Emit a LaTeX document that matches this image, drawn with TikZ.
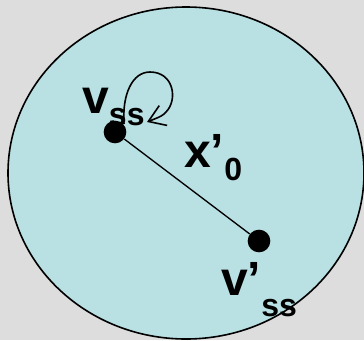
\documentclass[tikz,border=0pt]{standalone}
\usepackage{fontspec}
\setmainfont{Liberation Sans}
\usetikzlibrary{arrows.meta, positioning}
\definecolor{bggray}{HTML}{DDDDDD}
\definecolor{cellblue}{HTML}{B9E0E3}
\newcommand{\bigtxt}{\fontsize{36}{36}\selectfont\bfseries}
\newcommand{\subtxt}{\fontsize{24}{24}\selectfont\bfseries}

\begin{document}
\begin{tikzpicture}[x=0.75pt, y=-0.75pt,
  dot/.style={circle, fill=black, inner sep=0pt, minimum size=17pt},
  lbl/.style={anchor=base west, inner sep=0pt}]
\useasboundingbox[fill=bggray] (0,0) rectangle (364,340);
% the cell
\draw[line width=1.2pt, fill=cellblue] (186,173) ellipse [x radius=178, y radius=166];
% steady states
\node[dot] (vss) at (115,132) {};
\node[dot] (vpss) at (259,241) {};
\draw[line width=1pt] (vss) -- (vpss);
% self loop
\draw[line width=1.2pt, -{Straight Barb[length=12pt, width=16pt]}]
  (124,124) .. controls (122,95) and (132,72) .. (150,72)
  .. controls (174,72) and (178,100) .. (166,112)
  .. controls (162,116) .. (147,122);
% labels
\node[lbl] (vssLabel) at (82,113) {\bigtxt v\raisebox{-9pt}{\subtxt ss}};
\node[lbl] (xLabel) at (184,167) {\bigtxt x’\raisebox{-10pt}{\subtxt 0}};
\node[lbl] (vpssLabel) at (221,295) {\bigtxt v’\raisebox{-16pt}{\subtxt ss}};
\end{tikzpicture}
\end{document}
